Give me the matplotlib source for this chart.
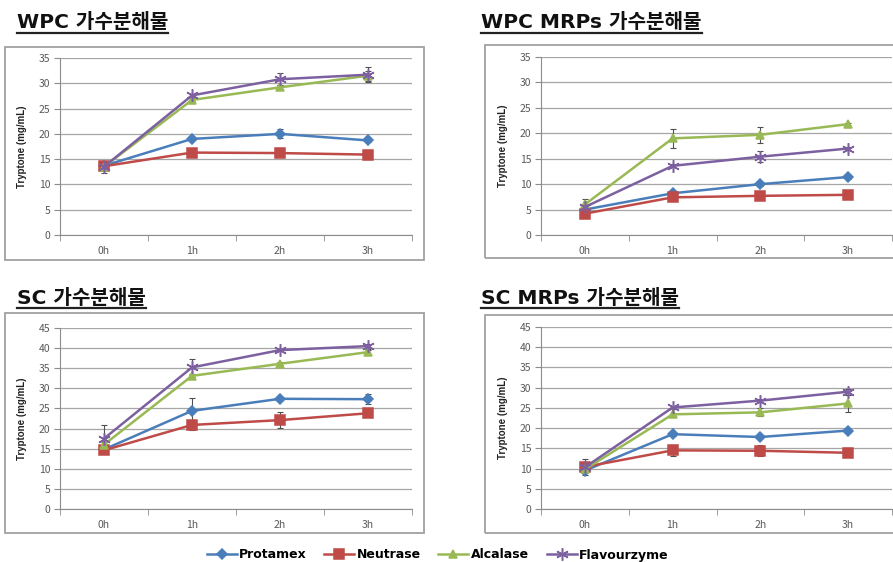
import matplotlib.pyplot as plt
from matplotlib.lines import Line2D
from matplotlib.patches import Rectangle

plt.rcParams['font.family'] = ['Noto Sans CJK KR', 'DejaVu Sans']

hours = ['0h', '1h', '2h', '3h']
enzymes = ['Protamex', 'Neutrase', 'Alcalase', 'Flavourzyme']
titles = ['WPC 가수분해물', 'WPC MRPs 가수분해물', 'SC 가수분해물', 'SC MRPs 가수분해물']

# WPC
wpc_prot = [13.7, 19.0, 20.0, 18.7]
wpc_neut = [13.6, 16.3, 16.2, 15.9]
wpc_alca = [13.5, 26.7, 29.2, 31.5]
wpc_flav = [13.5, 27.6, 30.8, 31.7]
wpc_prot_err = [0.4, 0.3, 0.9, 0.3]
wpc_neut_err = [0.3, 0.3, 0.6, 0.3]
wpc_alca_err = [0.4, 0.3, 0.4, 1.0]
wpc_flav_err = [1.2, 0.3, 1.2, 1.5]

# WPC MRPs
wmrp_prot = [5.0, 8.2, 10.0, 11.4]
wmrp_neut = [4.2, 7.4, 7.7, 7.9]
wmrp_alca = [6.0, 19.0, 19.7, 21.8]
wmrp_flav = [5.5, 13.6, 15.4, 17.0]
wmrp_prot_err = [0.4, 0.3, 0.3, 0.3]
wmrp_neut_err = [0.5, 0.3, 0.3, 0.3]
wmrp_alca_err = [1.0, 1.9, 1.6, 0.3]
wmrp_flav_err = [0.5, 0.3, 1.1, 0.3]

# SC
sc_prot = [14.8, 24.4, 27.4, 27.3]
sc_neut = [14.6, 20.9, 22.1, 23.8]
sc_alca = [16.0, 33.1, 36.1, 39.0]
sc_flav = [17.5, 35.2, 39.5, 40.5]
sc_prot_err = [0.6, 3.2, 0.3, 1.2]
sc_neut_err = [0.6, 1.3, 1.9, 0.3]
sc_alca_err = [0.6, 0.4, 0.4, 0.5]
sc_flav_err = [3.3, 2.0, 0.3, 0.6]

# SC MRPs
smrp_prot = [9.5, 18.5, 17.8, 19.4]
smrp_neut = [10.4, 14.5, 14.4, 13.9]
smrp_alca = [9.8, 23.4, 23.9, 26.1]
smrp_flav = [10.3, 25.1, 26.8, 29.0]
smrp_prot_err = [0.4, 0.4, 0.3, 0.3]
smrp_neut_err = [0.5, 1.3, 1.4, 0.3]
smrp_alca_err = [0.4, 0.3, 1.0, 2.0]
smrp_flav_err = [2.0, 0.3, 0.3, 0.7]

panels = [
    ([wpc_prot, wpc_neut, wpc_alca, wpc_flav],
     [wpc_prot_err, wpc_neut_err, wpc_alca_err, wpc_flav_err], 35),
    ([wmrp_prot, wmrp_neut, wmrp_alca, wmrp_flav],
     [wmrp_prot_err, wmrp_neut_err, wmrp_alca_err, wmrp_flav_err], 35),
    ([sc_prot, sc_neut, sc_alca, sc_flav],
     [sc_prot_err, sc_neut_err, sc_alca_err, sc_flav_err], 45),
    ([smrp_prot, smrp_neut, smrp_alca, smrp_flav],
     [smrp_prot_err, smrp_neut_err, smrp_alca_err, smrp_flav_err], 45),
]

colors = ['#4A7EBB', '#BE4B48', '#98B954', '#7D60A0']
markers = ['D', 's', '^', (6, 2, 0)]
msizes = [5, 7, 6, 9]

W, H = 893, 562
fig = plt.figure(figsize=(W / 100, H / 100), dpi=100)

# pixel layout: (axes left, axes right, y of zero, y of top, frame box, title pos)
layout = [
    (60, 412, 235, 58, (5, 47, 419, 213), (17, 23)),
    (541, 892, 235, 57, (485, 45, 420, 213), (481, 23)),
    (60, 412, 509, 328, (5, 313, 419, 220), (17, 298)),
    (541, 892, 509, 327, (485, 315, 420, 218), (481, 298)),
]

gray = '#8C8C8C'
tick_col = '#595959'
handles = []

for (series, errs, ymax), (l, r, y0, yt, box, tpos), title in zip(panels, layout, titles):
    bx, by, bw, bh = box
    fig.add_artist(Rectangle((bx / W, 1 - (by + bh) / H), bw / W, bh / H,
                             transform=fig.transFigure, fill=False,
                             edgecolor='#A0A0A0', lw=1.3))
    ax = fig.add_axes([l / W, 1 - y0 / H, (r - l) / W, (y0 - yt) / H])
    x = range(len(hours))
    for vals, err, c, m, ms in zip(series, errs, colors, markers, msizes):
        ax.errorbar(x, vals, yerr=err, fmt='none', ecolor='#505050',
                    elinewidth=0.8, capsize=2.5, capthick=0.8, zorder=2)
        h, = ax.plot(x, vals, color=c, lw=1.8, marker=m, ms=ms,
                     markerfacecolor=c, markeredgecolor=c, mew=1.1, zorder=3)
        if len(handles) < 4:
            handles.append(h)
    ax.set_xlim(-0.5, 3.5)
    ax.set_ylim(0, ymax)
    ax.set_yticks(range(0, ymax + 1, 5))
    ax.set_xticks(x)
    ax.set_xticklabels(hours)
    ax.set_xticks([-0.5, 0.5, 1.5, 2.5, 3.5], minor=True)
    ax.tick_params(axis='x', which='major', length=0, labelsize=7.5,
                   colors=tick_col, pad=8)
    ax.tick_params(axis='x', which='minor', length=4, color=gray, direction='out')
    ax.tick_params(axis='y', length=4, color=gray, labelsize=7.5,
                   colors=tick_col, pad=3)
    ax.yaxis.grid(True, color='#A6A6A6', lw=0.9)
    ax.set_axisbelow(True)
    for s in ['top', 'right']:
        ax.spines[s].set_visible(False)
    ax.spines['left'].set_color(gray)
    ax.spines['bottom'].set_color(gray)
    ax.set_ylabel('Tryptone (mg/mL)', fontsize=7, fontweight='bold',
                  family='Liberation Sans', color='#222222')
    ax.yaxis.set_label_coords(-33 / (r - l), 0.5)

    t = fig.text(tpos[0] / W, 1 - tpos[1] / H, title, fontsize=14.5,
                 fontweight='bold', va='center', ha='left', color='#111111',
                 family=['DejaVu Sans', 'Noto Sans CJK KR'])
    fig.canvas.draw()
    bb = t.get_window_extent()
    yline = 1 - (tpos[1] + 10) / H
    fig.add_artist(Line2D([bb.x0 / W, bb.x1 / W], [yline, yline],
                          transform=fig.transFigure, color='#222222', lw=1.6))

fig.legend(handles, enzymes, loc='center', bbox_to_anchor=(0.49, 1 - 555 / H),
           ncol=4, frameon=False, handlelength=2.4,
           columnspacing=1.4, handletextpad=0.2,
           prop={'family': 'DejaVu Sans', 'weight': 'bold', 'size': 9})

fig.savefig('out.png', dpi=100)
